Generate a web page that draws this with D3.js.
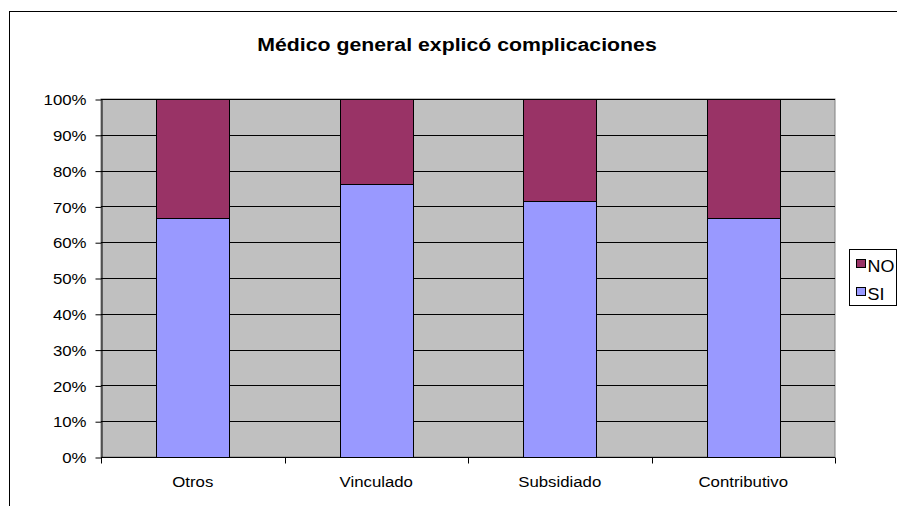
<!DOCTYPE html>
<html>
<head>
<meta charset="utf-8">
<script src="https://cdn.jsdelivr.net/npm/d3@7/dist/d3.min.js"></script>
<style>
  html, body { margin: 0; padding: 0; background: #fff; }
  svg { display: block; font-family: "Liberation Sans", Arial, sans-serif; }
</style>
</head>
<body>
<svg id="chart" width="897" height="506"></svg>
<script>
// Categories and stacked shares (percent of respondents)
const categories = ["Otros", "Vinculado", "Subsidiado", "Contributivo"];
const siValues = [66.7, 76.2, 71.4, 66.7];
const noValues = [33.3, 23.8, 28.6, 33.3];
const seriesNames = ["SI", "NO"];
const yTicks = [0, 10, 20, 30, 40, 50, 60, 70, 80, 90, 100];
const title = "Médico general explicó complicaciones";

const colors = { SI: "#9999ff", NO: "#993366" };
const FONT = "Liberation Sans, Arial, sans-serif";
const SX = 1.12; // text is drawn slightly widened

const svg = d3.select("#chart");
const W = 897, H = 506;
const plot = { left: 101, right: 835, top: 99, bottom: 457 };

// place a text element at (px, py) with horizontal widening
function placeText(sel, px, py) {
  sel.attr("x", 0).attr("y", 0)
     .attr("transform", `translate(${px},${py}) scale(${SX},1)`);
}

// Outer chart frame
svg.append("rect")
  .attr("x", 9.5).attr("y", 11.5)
  .attr("width", W + 20).attr("height", H + 20)
  .attr("fill", "#fff").attr("stroke", "#000").attr("stroke-width", 1);

// Title
svg.append("text")
  .attr("text-anchor", "middle")
  .attr("font-size", 19).attr("font-weight", "bold")
  .attr("font-family", FONT)
  .text(title)
  .call(placeText, 457, 50.5);

const x = d3.scaleBand()
  .domain(categories)
  .range([plot.left, plot.right])
  .paddingInner(0.6).paddingOuter(0.3);

const y = d3.scaleLinear().domain([0, 100]).range([plot.bottom, plot.top]);

// Plot background
svg.append("rect")
  .attr("x", plot.left).attr("y", plot.top)
  .attr("width", plot.right - plot.left).attr("height", plot.bottom - plot.top)
  .attr("fill", "#c0c0c0").attr("stroke", "#808080").attr("stroke-width", 1);

// Horizontal gridlines
svg.append("g").selectAll("line")
  .data(yTicks.filter(d => d > 0))
  .join("line")
  .attr("x1", plot.left).attr("x2", plot.right)
  .attr("y1", d => Math.round(y(d)) + 0.5).attr("y2", d => Math.round(y(d)) + 0.5)
  .attr("stroke", "#000").attr("stroke-width", 1);

// Stacked bars
const rows = categories.map((c, i) => ({ cat: c, SI: siValues[i], NO: noValues[i] }));
const stack = d3.stack().keys(seriesNames)(rows);

svg.append("g").selectAll("g")
  .data(stack)
  .join("g")
  .attr("fill", d => colors[d.key])
  .selectAll("rect")
  .data(d => d)
  .join("rect")
  .attr("x", d => Math.round(x(d.data.cat)) + 0.5)
  .attr("width", Math.round(x.bandwidth()))
  .attr("y", d => Math.round(y(d[1])) + 0.5)
  .attr("height", d => Math.round(y(d[0])) - Math.round(y(d[1])))
  .attr("stroke", "#000").attr("stroke-width", 1);

// Y axis
const yAxis = d3.axisLeft(y)
  .tickValues(yTicks)
  .tickFormat(d => d + "%")
  .tickSizeInner(6).tickSizeOuter(0).tickPadding(9);

const gy = svg.append("g")
  .attr("transform", `translate(${plot.left + 0.5},0.5)`)
  .call(yAxis);
gy.attr("font-size", null).attr("font-family", null);
gy.selectAll("text")
  .attr("font-size", 15).attr("fill", "#000").attr("font-family", FONT)
  .attr("dy", "0.35em")
  .call(placeText, -15, 0);
gy.selectAll("line, path").attr("stroke", "#000");

// X axis with ticks between categories
const gx = svg.append("g")
  .attr("transform", `translate(0,${plot.bottom + 0.5})`);
gx.append("line")
  .attr("x1", plot.left).attr("x2", plot.right)
  .attr("stroke", "#000");
const step = (plot.right - plot.left) / categories.length;
gx.selectAll("line.tick")
  .data(d3.range(categories.length + 1))
  .join("line")
  .attr("class", "tick")
  .attr("x1", i => Math.round(plot.left + i * step) + 0.5)
  .attr("x2", i => Math.round(plot.left + i * step) + 0.5)
  .attr("y1", 0).attr("y2", 6)
  .attr("stroke", "#000");
gx.selectAll("text")
  .data(categories)
  .join("text")
  .attr("text-anchor", "middle")
  .attr("font-size", 15)
  .attr("font-family", FONT)
  .text(d => d)
  .each(function (d) {
    d3.select(this).call(placeText, x(d) + x.bandwidth() / 2, 29.5);
  });

// Legend
const lg = svg.append("g");
lg.append("rect")
  .attr("x", 849.5).attr("y", 249.5)
  .attr("width", 47).attr("height", 56)
  .attr("fill", "#fff").attr("stroke", "#000");
const legendItems = ["NO", "SI"];
legendItems.forEach((k, i) => {
  const cy = 264 + i * 28;
  lg.append("rect")
    .attr("x", 856.5).attr("y", cy - 4.5)
    .attr("width", 9).attr("height", 8)
    .attr("fill", colors[k]).attr("stroke", "#000");
  lg.append("text")
    .attr("font-size", 16)
    .attr("font-family", FONT)
    .text(k)
    .call(placeText, 867.5, cy + 2.5 + 0.35 * 16);
});
</script>
</body>
</html>
